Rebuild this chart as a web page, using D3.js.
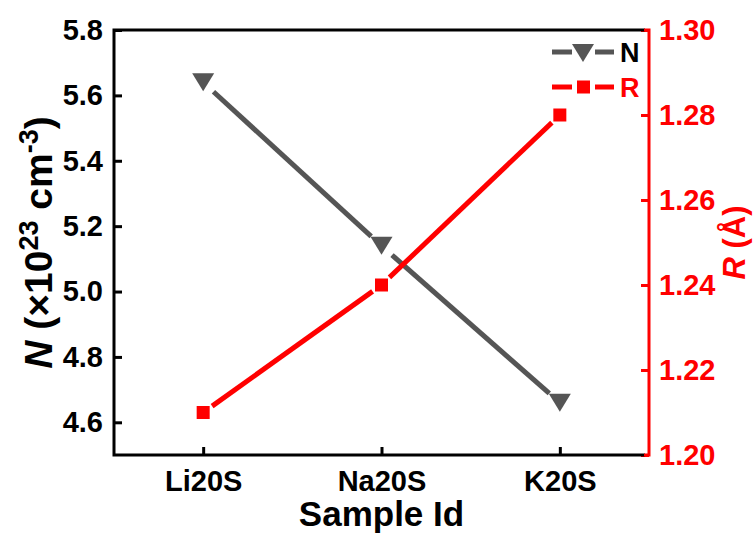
<!DOCTYPE html>
<html>
<head>
<meta charset="utf-8">
<script src="https://cdn.jsdelivr.net/npm/d3@7"></script>
<style>
  body { margin: 0; background: #fff; }
  svg { font-family: "Liberation Sans", Arial, sans-serif; font-weight: bold; }
</style>
</head>
<body>
<svg id="chart" width="754" height="534"></svg>
<script>
// data
const samples = ["Li20S", "Na20S", "K20S"];
const nValues = [5.64, 5.14, 4.66];
const rValues = [1.21, 1.24, 1.28];
const nTicks = [4.6, 4.8, 5.0, 5.2, 5.4, 5.6, 5.8];
const rTicks = [1.20, 1.22, 1.24, 1.26, 1.28, 1.30];

const W = 754, H = 534;
const m = { left: 114, right: 105, top: 30, bottom: 79 };
const pw = W - m.left - m.right, ph = H - m.top - m.bottom;
const grey = "#555555", red = "#ff0000";

const svg = d3.select("#chart");
const g = svg.append("g").attr("transform", `translate(${m.left},${m.top})`);

const x = d3.scalePoint().domain(samples).range([0, pw]).padding(0.5);
const yN = d3.scaleLinear().domain([4.5, 5.8]).range([ph, 0]);
const yR = d3.scaleLinear().domain([1.20, 1.30]).range([ph, 0]);

// axes
function styleAxis(sel, color, size) {
  sel.select(".domain").remove();
  sel.selectAll(".tick line").attr("stroke", color).attr("stroke-width", 3);
  sel.selectAll(".tick text").attr("fill", color).attr("font-size", size);
}

g.append("g")
  .attr("transform", `translate(0,${ph})`)
  .call(d3.axisBottom(x).tickSize(-8).tickPadding(15))
  .call(s => styleAxis(s, "#000", 29));

g.append("g")
  .call(d3.axisLeft(yN).tickValues(nTicks).tickFormat(d3.format(".1f")).tickSize(-8).tickPadding(11))
  .call(s => styleAxis(s, "#000", 29));

g.append("g")
  .attr("transform", `translate(${pw},0)`)
  .call(d3.axisRight(yR).tickValues(rTicks).tickFormat(d3.format(".2f")).tickSize(-8).tickPadding(10))
  .call(s => styleAxis(s, red, 29));

// frame
g.append("path").attr("d", `M${pw - 4},0H0V${ph}H${pw - 4}`)
  .attr("fill", "none").attr("stroke", "#000").attr("stroke-width", 3);
g.append("path").attr("d", `M${pw - 5},0H${pw}V${ph}H${pw - 5}`)
  .attr("fill", "none").attr("stroke", red).attr("stroke-width", 3);

// line segments with a gap around each marker
function segments(vals, y, gap) {
  const pts = vals.map((v, i) => [x(samples[i]), y(v)]);
  return d3.pairs(pts).map(([a, b]) => {
    const dx = b[0] - a[0], dy = b[1] - a[1], L = Math.hypot(dx, dy);
    const ux = dx / L, uy = dy / L;
    return [[a[0] + ux * gap, a[1] + uy * gap], [b[0] - ux * gap, b[1] - uy * gap]];
  });
}

// down triangle centred on its bounding box, like Origin draws it
const triDown = {
  draw(ctx, size) {
    const w = Math.sqrt(size), h = w * 0.82;
    ctx.moveTo(-w / 2, -h / 2);
    ctx.lineTo(w / 2, -h / 2);
    ctx.lineTo(0, h / 2);
    ctx.closePath();
  }
};
const tri = d3.symbol().type(triDown).size(22 * 22);

g.selectAll(".segN").data(segments(nValues, yN, 14)).join("line")
  .attr("x1", d => d[0][0]).attr("y1", d => d[0][1])
  .attr("x2", d => d[1][0]).attr("y2", d => d[1][1])
  .attr("stroke", grey).attr("stroke-width", 5);

g.selectAll(".segR").data(segments(rValues, yR, 11)).join("line")
  .attr("x1", d => d[0][0]).attr("y1", d => d[0][1])
  .attr("x2", d => d[1][0]).attr("y2", d => d[1][1])
  .attr("stroke", red).attr("stroke-width", 5);

g.selectAll(".mN").data(nValues).join("path")
  .attr("d", tri)
  .attr("transform", (d, i) => `translate(${x(samples[i])},${yN(d)})`)
  .attr("fill", grey);

g.selectAll(".mR").data(rValues).join("rect")
  .attr("x", (d, i) => x(samples[i]) - 6.5).attr("y", d => yR(d) - 6.5)
  .attr("width", 13).attr("height", 13).attr("fill", red);

// legend
const leg = svg.append("g");
const legItems = [
  { name: "N", color: grey, text: "#000", y: 52, tri: true },
  { name: "R", color: red, text: red, y: 87, tri: false }
];
legItems.forEach(it => {
  leg.append("line").attr("x1", 552).attr("x2", 572).attr("y1", it.y).attr("y2", it.y)
    .attr("stroke", it.color).attr("stroke-width", 5);
  leg.append("line").attr("x1", 595).attr("x2", 614).attr("y1", it.y).attr("y2", it.y)
    .attr("stroke", it.color).attr("stroke-width", 5);
  if (it.tri) {
    leg.append("path").attr("d", tri).attr("fill", it.color)
      .attr("transform", `translate(583,${it.y + 1})`);
  } else {
    leg.append("rect").attr("x", 577).attr("y", it.y - 6.5).attr("width", 13).attr("height", 13)
      .attr("fill", it.color);
  }
  leg.append("text").attr("x", 620).attr("y", it.y + 10).attr("font-size", 27)
    .attr("fill", it.text).text(it.name);
});

// axis titles
svg.append("text").attr("x", m.left + pw / 2).attr("y", 526)
  .attr("text-anchor", "middle").attr("font-size", 35).text("Sample Id");

const tN = svg.append("text")
  .attr("transform", `translate(52,${m.top + ph / 2}) rotate(-90)`)
  .attr("text-anchor", "middle").attr("font-size", 39);
tN.append("tspan").attr("font-style", "italic").text("N");
tN.append("tspan").text(" (×10");
tN.append("tspan").attr("dy", -14).attr("font-size", 27).text("23");
tN.append("tspan").attr("dy", 14).text(" cm");
tN.append("tspan").attr("dy", -14).attr("font-size", 27).text("-3");
tN.append("tspan").attr("dy", 14).text(")");

const tR = svg.append("text")
  .attr("transform", `translate(745,${m.top + ph / 2}) rotate(-90)`)
  .attr("text-anchor", "middle").attr("font-size", 31).attr("fill", red);
tR.append("tspan").attr("font-style", "italic").text("R");
tR.append("tspan").text(" (Å)");
</script>
</body>
</html>
